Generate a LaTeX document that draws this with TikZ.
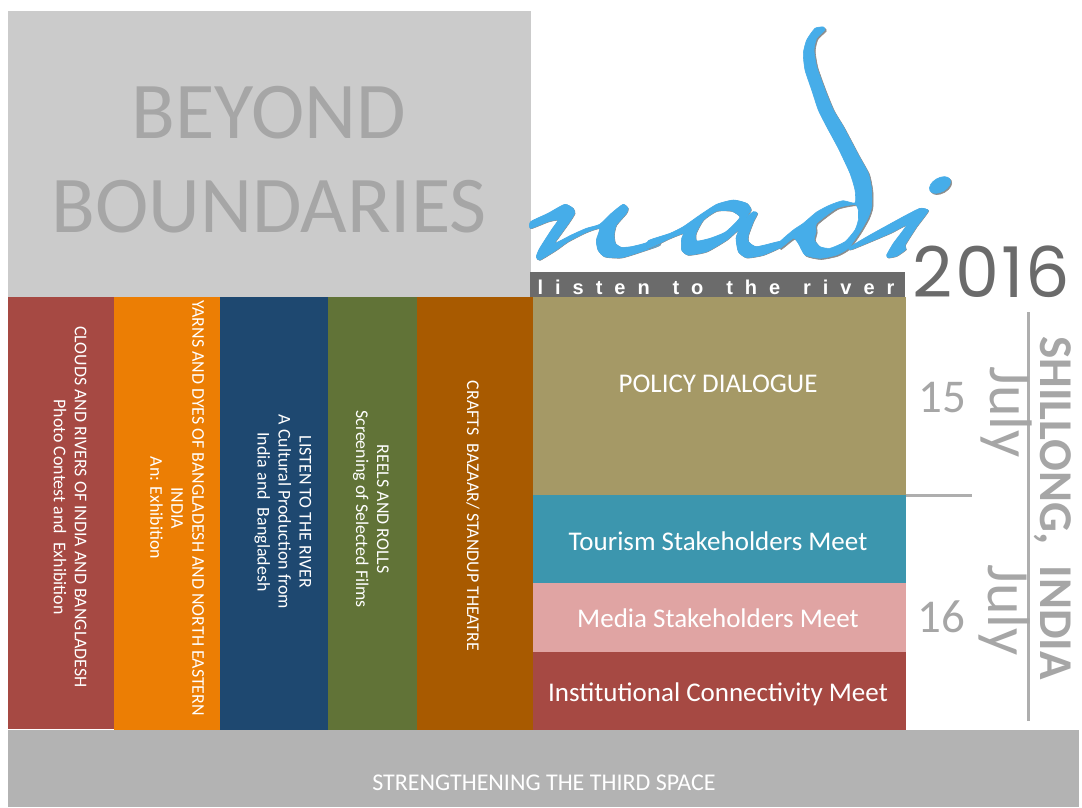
\documentclass[tikz,border=0pt]{standalone}
\usepackage{fontspec}
\setmainfont{Carlito}
\newfontfamily\yearfont[LetterSpace=3]{Poppins}
\newfontfamily\tagfont[LetterSpace=60,WordSpace=1.3]{Liberation Sans}
\definecolor{topgrey}{HTML}{CBCBCB}
\definecolor{basegrey}{HTML}{B3B3B3}
\definecolor{txtgrey}{HTML}{A6A6A6}
\definecolor{bandgrey}{HTML}{6B6B6B}
\definecolor{linegrey}{HTML}{AEAEAE}
\definecolor{cred}{HTML}{A64943}
\definecolor{corange}{HTML}{EC7E04}
\definecolor{cblue}{HTML}{1E4870}
\definecolor{cgreen}{HTML}{617337}
\definecolor{cbrown}{HTML}{A85A00}
\definecolor{ckhaki}{HTML}{A59966}
\definecolor{cteal}{HTML}{3C96AE}
\definecolor{cpink}{HTML}{E0A4A3}
\definecolor{logoblue}{HTML}{46ADE9}
\tikzset{
  blk/.style={draw=none,inner sep=0pt,outer sep=0pt,minimum width=#1},
  vtext/.style={rotate=-90,text=white,align=center,inner sep=0pt,font=\fontsize{17.9}{21}\selectfont},
  htext/.style={text=white,inner sep=0pt,font=\fontsize{27}{31}\selectfont},
  greytext/.style={text=txtgrey,inner sep=0pt},
  logofill/.style={fill=logoblue,draw=logoblue,line width=.6pt,even odd rule},
  logoshadow/.style={fill=black!45,draw=black!45,line width=.6pt,even odd rule,shift={(1.2,1.2)}},
  rule/.style={draw=linegrey,line width=3pt},
  ruleshadow/.style={draw=black!12,line width=3pt,shift={(.8,1.5)}},
}
\newcommand\logoshape[1]{\path[logoshadow] #1; \path[logofill] #1;}
\begin{document}
\begin{tikzpicture}[x=1pt,y=-1pt]
\useasboundingbox (0,0) rectangle (1082,807);
\fill[white] (0,0) rectangle (1082,807);

% top panel
\node[blk=523pt,minimum height=286pt,fill=topgrey] (top) at (269.5,154) {};
\node[greytext,align=center,font=\fontsize{80.5}{94}\selectfont] (title) at (269,160) {BEYOND\\BOUNDARIES};

% columns
\node[blk=106pt,minimum height=432pt,fill=cred] (c1) at (61,513) {};
\node[blk=106pt,minimum height=433pt,fill=corange] (c2) at (167,513.5) {};
\node[blk=108pt,minimum height=433pt,fill=cblue] (c3) at (274,513.5) {};
\node[blk=89pt,minimum height=433pt,fill=cgreen] (c4) at (372.5,513.5) {};
\node[blk=116pt,minimum height=433pt,fill=cbrown] (c5) at (475,513.5) {};

\node[vtext] (t1) at (70,507) {CLOUDS AND RIVERS OF INDIA AND BANGLADESH\\Photo Contest and~ Exhibition};
\node[vtext] (t2) at (177,508) {YARNS AND DYES OF BANGLADESH AND NORTH EASTERN\\INDIA\\An: Exhibition};
\node[vtext] (t3) at (283,512) {LISTEN TO THE RIVER\\A Cultural Production from\\India and~ Bangladesh};
\node[vtext] (t4) at (371,509) {REELS AND ROLLS\\Screening of Selected Films};
\node[vtext] (t5) at (473,516) {CRAFTS~ BAZAAR/ STANDUP THEATRE};

% right blocks
\node[blk=373pt,minimum height=198pt,fill=ckhaki] (b1) at (719.5,396) {};
\node[blk=373pt,minimum height=88pt,fill=cteal] (b2) at (719.5,539) {};
\node[blk=373pt,minimum height=69pt,fill=cpink] (b3) at (719.5,617.5) {};
\node[blk=373pt,minimum height=78pt,fill=cred] (b4) at (719.5,691) {};
\node[htext] (l1) at (718,384) {POLICY DIALOGUE};
\node[htext] (l2) at (718,541) {Tourism Stakeholders Meet};
\node[htext] (l3) at (718,618) {Media Stakeholders Meet};
\node[htext] (l4) at (718,694) {Institutional Connectivity Meet};

% base
\node[blk=1071pt,minimum height=77pt,fill=basegrey] (base) at (543.5,768.5) {};
\node[text=white,inner sep=0pt,font=\fontsize{24}{28}\selectfont] (basetext) at (544,782.5) {STRENGTHENING THE THIRD SPACE};

% tagline band
\node[blk=375pt,minimum height=25pt,fill=bandgrey] (band) at (717.5,284.5) {};
\node[text=white,inner sep=0pt,font=\tagfont\fontsize{20}{22}\selectfont\bfseries] (tag) at (716,287) {listen to the river};

% year
\node[text=bandgrey,inner sep=0pt,font=\yearfont\fontsize{70}{80}\selectfont] (year) at (991.5,272) {2016};

% logo: n
\begin{scope}[shift={(528,195)},scale=1/3]
\logoshape{plot[smooth cycle,tension=.35] coordinates {(8,80)(60,55)(110,28)(135,40)(140,55)(125,80)(100,115)(80,145)(130,120)(175,100)(215,88)(250,55)(285,28)(300,40)(295,55)(265,90)(258,120)(262,145)(280,157)(310,155)(350,145)(395,128)(395,150)(340,170)(280,188)(230,185)(210,165)(205,135)(215,100)(175,112)(120,140)(85,165)(35,195)(25,185)(35,160)(70,105)(90,75)(60,80)(8,100)}}
\end{scope}
% logo: a
\begin{scope}[shift={(650,195)},scale=1/3]
\logoshape{plot[smooth cycle,tension=.35] coordinates {(-5,137)(60,115)(100,95)(150,60)(200,28)(250,15)(290,25)(303,45)(285,70)(310,50)(322,55)(310,80)(295,120)(295,140)(320,155)(395,138)(395,155)(340,180)(290,188)(265,170)(258,130)(265,105)(230,135)(170,170)(115,180)(95,165)(95,130)(100,115)(60,130)(-5,160)} plot[smooth cycle,tension=.35] coordinates {(160,75)(200,48)(245,48)(270,65)(255,85)(225,112)(180,130)(140,138)(138,115)}}
\end{scope}
% logo: d
\logoshape{plot[smooth cycle,tension=.35] coordinates {(780,241.7)(793.3,230)(803.3,223.3)(816.7,212)(830,205)(843,200.7)(855,203)(855,190)(850,173.3)(838.3,148.3)(826.7,126.7)(818.3,110)(811.7,90)(805,70)(803.3,53.3)(806.7,40)(815,28.3)(823.3,27)(825,30)(816.7,38.3)(814,50)(816.7,66.7)(825,90)(833.3,110)(843.3,126.7)(858.3,155)(868.3,173.3)(871.7,190)(871.7,206.7)(868,218)(860,232)(848.3,248.3)(836.7,255)(820,258.3)(805,255)(798.3,243.3)(793.3,238.3)(780,248.3)} plot[smooth cycle,tension=.35] coordinates {(816.7,223.3)(836.7,208.3)(855,204.5)(858.3,210)(858.3,220)(855,230)(845,241.7)(830,248.3)(820,246.7)(814.3,240)(816,231.7)}}
% logo: i
\begin{scope}[shift={(780,170)},scale=1/3]
\logoshape{plot[smooth cycle,tension=.3] coordinates {(445,122)(410,170)(375,225)(378,238)(350,258)(325,263)(320,255)(340,220)(380,165)(330,190)(215,238)(208,232)(270,195)(370,140)(420,115)}}
\end{scope}
\path[logoshadow] (940,185) ellipse [x radius=11.5,y radius=7,rotate=30];
\path[logofill] (940,185) ellipse [x radius=11.5,y radius=7,rotate=30];

% dates
\node[greytext,font=\fontsize{47}{50}\selectfont] (d15) at (942,398) {15};
\node[greytext,font=\fontsize{47}{50}\selectfont] (d16) at (941,617) {16};

% rules
\coordinate (va) at (1028.5,312);
\coordinate (vb) at (1028.5,721);
\coordinate (ha) at (906,495.5);
\coordinate (hb) at (972,495.5);
\draw[ruleshadow] (va) -- (vb);
\draw[ruleshadow] (ha) -- (hb);
\draw[rule] (va) -- (vb);
\draw[rule] (ha) -- (hb);

\node[greytext,rotate=-90,font=\fontsize{60}{62}\selectfont] (j1) at (1006,412) {July};
\node[greytext,rotate=-90,font=\fontsize{60}{62}\selectfont] (j2) at (1004,610) {July};
\node[greytext,rotate=-90,font=\fontsize{47}{52}\selectfont\bfseries] (city) at (1053,508) {SHILLONG,~ INDIA};
\end{tikzpicture}
\end{document}
